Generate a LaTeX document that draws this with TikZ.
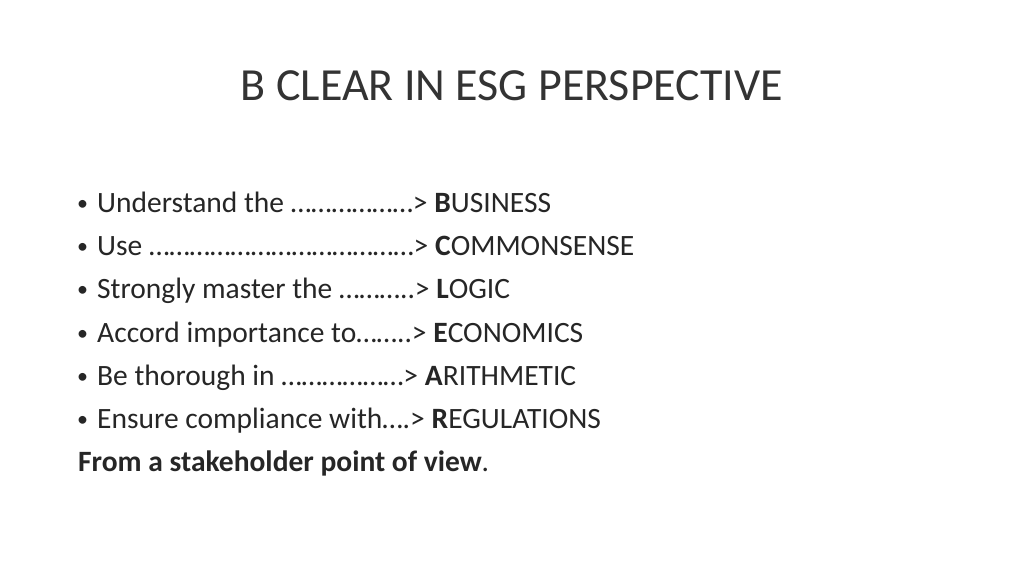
\documentclass[tikz,border=0pt]{standalone}
\usepackage{fontspec}
\setmainfont{Carlito}
\begin{document}
\begin{tikzpicture}[x=1pt,y=1pt,
  line/.style={anchor=base west,inner sep=0pt,font=\fontsize{29.5}{34}\selectfont,text=black!85},
  bul/.style={anchor=base west,inner sep=0pt,font=\fontsize{22}{26}\selectfont,text=black!85}]
\useasboundingbox[fill=white] (0,0) rectangle (1024,576);
\node[anchor=base,inner sep=0pt,font=\fontsize{46}{50}\selectfont,text=black!80] (title) at (512,576-101) {B CLEAR IN ESG PERSPECTIVE};
\foreach \i/\t in {0/{Understand the ………………> \textbf{B}USINESS},
                   1/{Use …………………………………> \textbf{C}OMMONSENSE},
                   2/{Strongly master the ………..> \textbf{L}OGIC},
                   3/{Accord importance to……..> \textbf{E}CONOMICS},
                   4/{Be thorough in ………………> \textbf{A}RITHMETIC},
                   5/{Ensure compliance with….> \textbf{R}EGULATIONS}}{
  \node[bul] (b\i) at (77,576-211-43*\i) {•};
  \node[line] (l\i) at (97,576-213-43*\i) {\t};
}
\node[line] (last) at (78,576-213-43*6) {\textbf{From a stakeholder point of view}.};
\end{tikzpicture}
\end{document}
